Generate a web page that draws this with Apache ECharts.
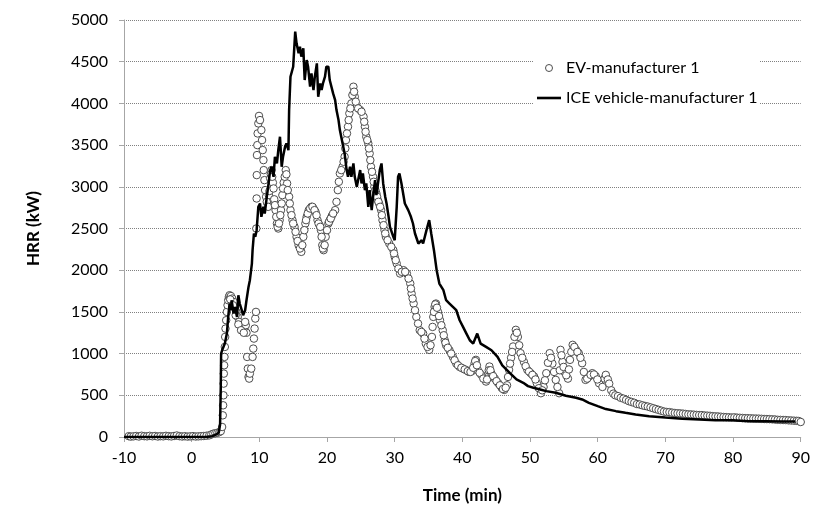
<!DOCTYPE html>
<html>
<head>
<meta charset="utf-8">
<script src="https://cdn.jsdelivr.net/npm/echarts@6/dist/echarts.min.js"></script>
<style>
html,body{margin:0;padding:0;background:#fff;}
#chart{width:813px;height:511px;}
</style>
</head>
<body>
<div id="chart"></div>
<script>
// ---- Data ----
const seriesNames = ['EV-manufacturer 1', 'ICE vehicle-manufacturer 1'];
const xTicks = [-10, 0, 10, 20, 30, 40, 50, 60, 70, 80, 90];
const yTicks = [0, 500, 1000, 1500, 2000, 2500, 3000, 3500, 4000, 4500, 5000];

// EV-manufacturer 1 : [time (min), HRR (kW)] - first reading pass
const evDataA = [
[-9.3,10],[-9,5],[-8.6,8],[-8.2,12],[-7.8,6],[-7.4,15],[-7,10],[-6.6,8],[-6.2,14],[-5.8,9],[-5.4,12],[-5,6],[-4.6,10],[-4.2,8],[-3.8,14],[-3.4,10],[-3,7],[-2.6,12],[-2.2,18],[-1.8,10],[-1.4,6],[-1,9],[-0.6,5],[-0.2,8],[0.2,10],[0.6,6],[1,8],[1.4,10],[1.8,12],[2.2,15],[2.6,20],[2.9,30],[3.2,40],[3.5,45],[3.8,50],[4.1,60],[4.3,70],[4.5,120],
[4.6,260],[4.65,380],[4.7,500],[4.72,640],[4.75,760],[4.8,860],[4.85,960],[4.9,1080],[4.95,1200],[5.0,1300],[5.1,1400],[5.2,1500],[5.3,1580],[5.4,1640],[5.5,1680],[5.6,1700],[5.8,1690],[6.0,1660],[6.2,1620],[6.4,1560],[6.6,1500],[6.8,1440],[7.0,1380],[7.2,1340],[7.4,1300],[7.6,1290],[7.8,1310],[8.0,1340],[8.1,1250],[8.2,960],[8.3,820],[8.4,720],[8.5,700],[8.6,760],[8.8,820],[9.0,960],[9.1,1060],[9.2,1180],[9.3,1300],[9.4,1420],[9.5,1500],
[9.55,2500],[9.6,2860],[9.62,3140],[9.65,3380],[9.7,3500],[9.75,3640],[9.85,3760],[9.95,3850],[10.1,3800],[10.3,3680],[10.4,3560],[10.5,3440],[10.6,3320],[10.65,3200],[10.75,3080],[10.85,2960],[11.0,2880],[11.2,2800],[11.4,2900],[11.6,3100],[11.8,3200],[12.0,3050],[12.2,2850],[12.4,2720],[12.6,2560],[12.8,2500],[13.0,2600],[13.2,2720],[13.4,2900],[13.6,3050],[13.9,3200],[14.1,3040],[14.4,2880],[14.6,2720],[14.9,2600],[15.2,2520],[15.5,2400],[15.8,2300],[16.2,2220],[16.5,2400],[16.8,2560],[17.0,2640],[17.3,2720],[17.7,2760],[18.0,2740],[18.3,2700],[18.6,2600],[18.9,2540],[19.1,2480],[19.3,2300],[19.5,2240],[19.8,2400],[20.2,2560],[20.4,2600],[20.7,2650],[21.2,2720],[21.6,2960],[21.9,3160],[22.3,3240],[22.6,3360],[22.8,3560],[23.1,3720],[23.3,3880],[23.6,4000],[23.9,4200],[24.1,4080],[24.4,3960],[24.9,3920],[25.4,3840],[25.6,3720],[25.8,3600],[26.1,3520],[26.3,3400],[26.5,3240],[26.8,3120],[27.0,3000],[27.3,2920],[27.5,2840],[27.7,2800],[28.0,2720],[28.2,2600],[28.5,2480],[28.7,2400],[29.2,2320],[29.8,2240],[30.0,2160],[30.3,2080],[30.8,1960],[31.3,2000],[31.8,1960],[32.3,1840],[32.5,1720],[32.8,1600],[33.2,1440],[33.7,1280],[34.2,1240],[34.6,1120],[35.1,1045],[35.5,1200],[35.7,1440],[35.9,1560],[36.1,1600],[36.4,1500],[36.7,1400],[37.1,1280],[37.4,1160],[37.6,1100],[38.1,1040],[38.6,960],[39.1,880],[39.6,840],[40.1,820],[40.6,800],[41.0,780],[41.4,790],[41.8,880],[42.0,925],[42.3,800],[42.8,745],[43.5,665],[43.8,720],[44.0,845],[44.3,760],[44.8,700],[45.3,645],[45.8,590],[46.2,565],[46.6,620],[46.9,805],[47.2,950],[47.5,1085],[47.9,1285],[48.2,1200],[48.6,1005],[49.1,900],[49.6,805],[50.1,765],[50.6,725],[51.0,645],[51.6,525],[52.0,600],[52.4,765],[52.9,1005],[53.3,880],[53.8,685],[54.3,525],[54.5,1045],[54.8,900],[55.1,780],[55.6,700],[55.9,925],[56.3,1105],[56.8,1045],[57.2,1005],[57.7,885],[58.2,685],[58.7,725],[59.2,765],[59.7,730],[60.2,645],[60.7,600],[61.0,700],[61.2,745],[61.5,690],[61.7,640],[62.0,560],[62.3,520],[62.6,500],[63.0,490],[63.4,470],[63.8,460],[64.2,445],[64.6,430],[65.0,420],[65.4,410],[65.8,395],[66.2,390],[66.6,380],[67.0,372],[67.4,365],[67.8,355],[68.2,345],[68.6,335],[69.0,325],[69.4,315],[69.8,305],[70.2,300],[70.6,298],[71.0,292],[71.4,288],[71.8,285],[72.2,283],[72.6,280],[73.0,276],[73.4,272],[73.8,270],[74.2,268],[74.6,265],[75.0,263],[75.4,262],[75.8,258],[76.2,256],[76.6,254],[77.0,250],[77.4,248],[77.8,246],[78.2,243],[78.6,240],[79.0,238],[79.4,236],[79.8,234],[80.2,236],[80.6,232],[81.0,230],[81.4,228],[81.8,226],[82.2,225],[82.6,224],[83.0,222],[83.4,221],[83.8,220],[84.2,218],[84.6,216],[85.0,215],[85.4,214],[85.8,212],[86.2,210],[86.6,206],[87.0,205],[87.4,204],[87.8,203],[88.2,200],[88.6,198],[89.0,196],[89.4,194],[89.7,192],[90.0,180]
];

// EV-manufacturer 1 : second reading pass (in-between circles of the dense cloud)
const evDataB = [
[5.7,1650],[6.1,1580],[6.5,1460],[6.9,1350],[7.3,1280],[7.7,1250],[7.9,1380],
[11.1,2820],[11.3,2760],[11.5,2950],[11.7,3150],[11.9,3120],[12.1,2980],[12.3,2780],[12.5,2640],[12.7,2520],[12.9,2560],[13.1,2660],[13.3,2800],[13.5,2980],[13.75,3120],[14.0,3150],[14.2,2960],[14.5,2800],[14.75,2660],[15.0,2560],[15.35,2460],[15.65,2350],[16.0,2260],[16.35,2300],[16.65,2480],[16.9,2600],[17.15,2680],[17.5,2740],[17.85,2760],[18.15,2720],[18.45,2660],[18.75,2560],[19.0,2520],[19.2,2400],[19.4,2260],[19.65,2300],[20.0,2480],[20.3,2580],[20.55,2620],[20.9,2680],[21.4,2820],[21.75,3060],[22.1,3200],[22.45,3300],[22.7,3460],[22.95,3640],[23.2,3800],[23.45,3940],[23.75,4100],[24.0,4140],[24.25,4020],[24.6,3940],[25.1,3900],[25.5,3780],[25.7,3660],[25.95,3560],[26.2,3460],[26.4,3320],[26.65,3180],[26.9,3060],[27.15,2960],[27.4,2880],[27.6,2820],[27.85,2760],[28.1,2660],[28.35,2540],[28.6,2440],[28.95,2360],[29.5,2280],[29.9,2200],[30.15,2120],[30.55,2020],[31.05,1980],[31.55,1980],[32.05,1900],[32.4,1780],[32.65,1660],[33.0,1520],[33.45,1360],[33.95,1260],[34.4,1180],[34.85,1080],[35.3,1100],[35.6,1320],[35.8,1500],[36.0,1590],[36.25,1550],[36.55,1450],[36.9,1340],[37.25,1220],[37.5,1130],[37.85,1070],[38.35,1000],[38.85,920],[39.35,860],[39.85,830],[40.35,810],[40.8,790],[41.2,780],[41.6,830],[41.9,910],[42.15,860],[42.55,770],[43.1,700],[43.65,690],[43.9,800],[44.15,800],[44.55,730],[45.05,670],[45.55,620],[46.0,575],[46.4,590],[46.75,720],[47.05,880],[47.35,1020],[47.7,1200],[48.05,1250],[48.4,1100],[48.85,950],[49.35,850],[49.85,785],[50.35,745],[50.8,690],[51.3,585],[51.8,560],[52.2,680],[52.65,890],[53.1,950],[53.55,780],[54.05,600],[54.4,800],[54.65,980],[54.95,840],[55.35,740],[55.75,810],[56.1,1020],[56.55,1080],[57.0,1020],[57.45,950],[57.95,780],[58.45,700],[58.95,745],[59.45,750],[59.95,690]
];
const evData = evDataA.concat(evDataB);

// ICE vehicle-manufacturer 1 : [time (min), HRR (kW)]
const iceData = [
[-10,0],[-8,0],[-6,0],[-4,0],[-2,0],[0,0],[2,0],[3,10],[3.6,30],[4.0,50],[4.2,150],[4.3,600],[4.35,1000],[4.5,1040],[4.9,1120],[5.2,1240],[5.4,1440],[5.6,1600],[5.8,1520],[5.9,1640],[6.2,1480],[6.4,1560],[6.7,1440],[6.9,1700],[7.1,1600],[7.4,1520],[7.6,1460],[7.9,1520],[8.1,1640],[8.4,1800],[8.6,1880],[8.9,2080],[9.0,2240],[9.2,2440],[9.4,2400],[9.6,2480],[9.85,2760],[10.1,2800],[10.3,2640],[10.6,2760],[10.8,2680],[11.1,2880],[11.3,3000],[11.6,3200],[11.8,3240],[12.1,3120],[12.3,3360],[12.6,3280],[12.8,3440],[13.05,3600],[13.3,3240],[13.5,3360],[13.8,3480],[14.0,3520],[14.3,3440],[14.4,3920],[14.6,4320],[14.8,4380],[15.0,4440],[15.3,4860],[15.5,4720],[15.8,4600],[16.0,4680],[16.2,4560],[16.5,4660],[16.7,4280],[17.0,4520],[17.2,4440],[17.5,4200],[17.7,4360],[18.0,4160],[18.2,4320],[18.5,4480],[18.7,4080],[19.0,4240],[19.2,4160],[19.4,4240],[19.7,4320],[19.9,4440],[20.2,4440],[20.4,4280],[20.9,4120],[21.2,4040],[21.4,3920],[21.7,3800],[21.9,3680],[22.1,3600],[22.4,3480],[22.6,3400],[22.9,3200],[23.1,3120],[23.4,3240],[23.6,3120],[23.9,3280],[24.1,3120],[24.4,3000],[24.9,3200],[25.1,3040],[25.3,3160],[25.6,2960],[25.8,3040],[26.1,2760],[26.3,2960],[26.6,2720],[26.8,2880],[27.1,3080],[27.3,2900],[27.8,3200],[28.05,3280],[28.3,3040],[28.6,2880],[28.8,2800],[29.1,2640],[29.3,2520],[29.8,2400],[30.0,2360],[30.3,2760],[30.5,3120],[30.7,3160],[31.0,3040],[31.5,2800],[32.0,2720],[32.4,2640],[32.7,2560],[33.0,2440],[33.5,2320],[34.0,2360],[34.2,2320],[34.7,2480],[35.1,2600],[35.4,2440],[35.8,2240],[36.2,2000],[36.6,1840],[37.2,1760],[37.6,1640],[38.1,1600],[38.6,1560],[39.1,1520],[39.6,1400],[40.1,1320],[40.6,1240],[41.1,1160],[41.6,1120],[42.2,1240],[42.7,1120],[43.5,1080],[44.3,1040],[45.2,960],[45.9,860],[47.0,770],[48.0,690],[49.0,650],[49.7,610],[50.5,590],[51.5,570],[52.4,550],[53.8,530],[55.3,495],[56.8,470],[57.7,450],[58.7,410],[60.0,370],[61.2,335],[62.7,310],[64.1,290],[65.6,270],[67.6,250],[70.0,235],[72.5,220],[75.0,210],[77.4,200],[79.9,200],[82.3,190],[84.8,190],[87.2,185],[89.2,185]
];

const FONT = 'Lato';
const chart = echarts.init(document.getElementById('chart'), null, {renderer: 'canvas'});
chart.setOption({
  backgroundColor: '#ffffff',
  animation: false,
  textStyle: {fontFamily: FONT, color: '#000'},
  grid: {left: 124, right: 11, top: 20, bottom: 74, containLabel: false},
  legend: {
    orient: 'vertical',
    left: 534,
    top: 56,
    padding: [4, 2, 4, 3],
    itemGap: 14,
    itemWidth: 24,
    itemHeight: 7,
    backgroundColor: '#ffffff',
    textStyle: {fontFamily: FONT, fontSize: 16, color: '#000'},
    data: [
      {name: seriesNames[0], icon: 'circle', itemStyle: {color: '#fff', borderColor: '#4d4d4d', borderWidth: 1}},
      {name: seriesNames[1], icon: 'path://M0,0H24V2.6H0Z', itemStyle: {color: '#000', borderWidth: 0}}
    ]
  },
  xAxis: {
    type: 'value',
    min: xTicks[0],
    max: xTicks[xTicks.length - 1],
    interval: 10,
    name: 'Time (min)',
    nameLocation: 'middle',
    nameGap: 50,
    nameTextStyle: {fontFamily: FONT, fontSize: 17, fontWeight: 'bold', color: '#000'},
    axisLine: {show: true, onZero: false, lineStyle: {color: '#a6a6a6', width: 1}},
    axisTick: {show: true, length: 5, lineStyle: {color: '#a6a6a6'}},
    axisLabel: {fontFamily: FONT, fontSize: 16, color: '#000', margin: 13, formatter: v => String(v)},
    splitLine: {show: false}
  },
  yAxis: {
    type: 'value',
    min: yTicks[0],
    max: yTicks[yTicks.length - 1],
    interval: 500,
    name: 'HRR (kW)',
    nameLocation: 'middle',
    nameGap: 82,
    nameTextStyle: {fontFamily: FONT, fontSize: 17, fontWeight: 'bold', color: '#000'},
    axisLine: {show: true, onZero: false, lineStyle: {color: '#a6a6a6', width: 1}},
    axisTick: {show: true, length: 5, lineStyle: {color: '#a6a6a6'}},
    axisLabel: {fontFamily: FONT, fontSize: 16, color: '#000', margin: 16, formatter: v => String(v)},
    splitLine: {show: true, lineStyle: {color: '#808080', type: [1, 1], width: 1}}
  },
  series: [
    {
      name: seriesNames[0],
      type: 'scatter',
      data: evData,
      symbol: 'circle',
      symbolSize: 7.5,
      itemStyle: {color: '#ffffff', borderColor: '#4d4d4d', borderWidth: 1, opacity: 1},
      z: 2
    },
    {
      name: seriesNames[1],
      type: 'line',
      data: iceData,
      symbol: 'none',
      showSymbol: false,
      lineStyle: {color: '#000', width: 2.5},
      itemStyle: {color: '#000'},
      z: 3
    }
  ]
});
</script>
</body>
</html>
